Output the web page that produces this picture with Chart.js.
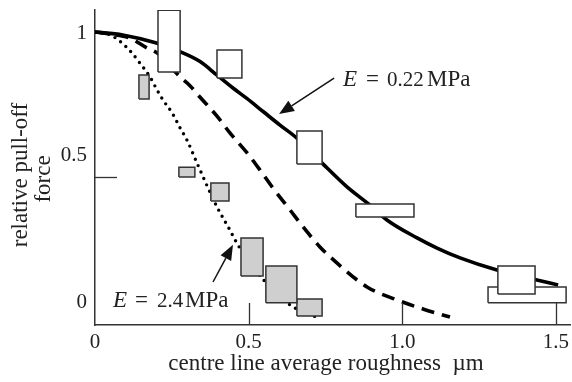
<!DOCTYPE html>
<html><head><meta charset="utf-8">
<script src="https://cdn.jsdelivr.net/npm/chart.js@4.4.1/dist/chart.umd.min.js"></script>
<style>html,body{margin:0;padding:0;background:#fff}canvas{display:block}</style>
</head><body>
<canvas id="c" width="572" height="382"></canvas>
<script>
// ---- axis / tick data ----
const xTickValues = [0, 0.5, 1.0, 1.5];
const xTickLabels = ['0', '0.5', '1.0', '1.5'];
const yTickValues = [1, 0.5, 0];
const yTickLabels = ['1', '0.5', '0'];
const xTickMarks = [0.5, 1.0, 1.5];
const yTickMarks = [0.5];
const xTitle = 'centre line average roughness  \u00b5m';
const yTitle = ['relative pull-off', 'force'];

// ---- curve E = 0.22 MPa (solid) ----
const softCurveX = [0, 0.09, 0.2, 0.277, 0.342, 0.396, 0.45, 0.494, 0.548, 0.602, 0.657, 0.739, 0.82, 0.895, 0.95, 1.048, 1.113, 1.188, 1.308, 1.438, 1.507];
const softCurveY = [1.0, 0.99, 0.962, 0.932, 0.898, 0.852, 0.806, 0.771, 0.725, 0.679, 0.634, 0.548, 0.466, 0.403, 0.352, 0.29, 0.255, 0.221, 0.179, 0.145, 0.128];
// ---- intermediate curve (dashed) ----
const midCurveX = [0, 0.049, 0.114, 0.169, 0.202, 0.277, 0.309, 0.342, 0.397, 0.439, 0.495, 0.537, 0.579, 0.635, 0.677, 0.732, 0.788, 0.885, 0.983, 1.067, 1.155];
const midCurveY = [1, 0.993, 0.979, 0.945, 0.928, 0.845, 0.815, 0.775, 0.71, 0.652, 0.583, 0.524, 0.462, 0.386, 0.328, 0.259, 0.203, 0.121, 0.076, 0.045, 0.017];
// ---- curve E = 2.4 MPa (dotted) ----
const stiffCurveX = [0, 0.049, 0.088, 0.12, 0.146, 0.179, 0.202, 0.221, 0.251, 0.277, 0.299, 0.332, 0.368, 0.397, 0.439, 0.465, 0.543, 0.635, 0.726];
const stiffCurveY = [1, 0.99, 0.962, 0.928, 0.893, 0.845, 0.8, 0.766, 0.721, 0.669, 0.628, 0.548, 0.462, 0.397, 0.317, 0.266, 0.152, 0.059, 0.014];

// ---- measured ranges, E = 0.22 MPa (white boxes) ----
const softXMin = [0.205, 0.397, 0.657, 0.849, 1.311, 1.279];
const softXMax = [0.277, 0.478, 0.739, 1.038, 1.432, 1.533];
const softYMin = [0.862, 0.841, 0.545, 0.362, 0.097, 0.066];
const softYMax = [1.075, 0.938, 0.659, 0.407, 0.193, 0.121];
// ---- measured ranges, E = 2.4 MPa (grey boxes) ----
const stiffXMin = [0.143, 0.273, 0.377, 0.475, 0.556, 0.657];
const stiffXMax = [0.176, 0.325, 0.436, 0.547, 0.657, 0.739];
const stiffYMin = [0.769, 0.5, 0.417, 0.159, 0.066, 0.021];
const stiffYMax = [0.852, 0.534, 0.479, 0.29, 0.193, 0.079];

// ---- annotations (data coordinates) ----
const softLabel = {x: 0.807, y: 0.814, value: '0.22'};
const stiffLabel = {x: 0.0586, y: 0.052, value: '2.4'};
const softArrow = {x0: 0.778, y0: 0.841, x1: 0.599, y1: 0.717};
const stiffArrow = {x0: 0.384, y0: 0.138, x1: 0.449, y1: 0.266};

const FONT = '"Liberation Serif", "Times New Roman", serif';
const NUM = '21px ' + FONT;
const WORD = '23px ' + FONT;
const INK = '#222';

function curve(xs, ys, extra) {
  return Object.assign({
    data: xs.map((v, i) => ({x: v, y: ys[i]})),
    showLine: true, pointRadius: 0, borderColor: '#000', borderWidth: 3.6,
    cubicInterpolationMode: 'monotone', fill: false, order: 1
  }, extra);
}
function boxes(x0, x1, y0, y1, fillColor) {
  return x0.map((_, i) => ({
    data: [
      {x: x0[i], y: y0[i]}, {x: x1[i], y: y0[i]}, {x: x1[i], y: y1[i]},
      {x: x0[i], y: y1[i]}, {x: x0[i], y: y0[i]}
    ],
    showLine: true, pointRadius: 0, tension: 0, borderColor: '#333', borderWidth: 1.5,
    borderJoinStyle: 'miter', backgroundColor: fillColor, fill: 'shape', order: 0
  }));
}

const datasets = [
  ...boxes(stiffXMin, stiffXMax, stiffYMin, stiffYMax, '#cfcfcf'),
  ...boxes(softXMin, softXMax, softYMin, softYMax, '#ffffff'),
  curve(softCurveX, softCurveY, {}),
  curve(midCurveX, midCurveY, {borderDash: [13, 8]}),
  curve(stiffCurveX, stiffCurveY, {borderDash: [0, 7], borderCapStyle: 'round', borderWidth: 3.4})
];

function arrow(ctx, xs, ys, a) {
  const x0 = xs.getPixelForValue(a.x0), y0 = ys.getPixelForValue(a.y0);
  const x1 = xs.getPixelForValue(a.x1), y1 = ys.getPixelForValue(a.y1);
  const ang = Math.atan2(y1 - y0, x1 - x0);
  const L = 15, W = 6;
  const bx = x1 - L * Math.cos(ang), by = y1 - L * Math.sin(ang);
  ctx.beginPath(); ctx.moveTo(x0, y0); ctx.lineTo(bx, by); ctx.stroke();
  ctx.beginPath();
  ctx.moveTo(x1, y1);
  ctx.lineTo(bx + W * Math.sin(ang), by - W * Math.cos(ang));
  ctx.lineTo(bx - W * Math.sin(ang), by + W * Math.cos(ang));
  ctx.closePath(); ctx.fill();
}
function eLabel(ctx, xs, ys, lab, gaps) {
  const px = xs.getPixelForValue(lab.x), py = ys.getPixelForValue(lab.y);
  ctx.textAlign = 'left'; ctx.textBaseline = 'alphabetic';
  ctx.font = 'italic ' + WORD; ctx.fillText('E', px, py);
  ctx.font = WORD; ctx.fillText('=', px + gaps[0], py);
  ctx.font = NUM; ctx.fillText(lab.value, px + gaps[1], py);
  ctx.font = WORD; ctx.fillText('MPa', px + gaps[2], py);
}

const decor = {
  id: 'decor',
  afterDraw(chart) {
    const {ctx} = chart; const xs = chart.scales.x, ys = chart.scales.y;
    ctx.save();
    // inward tick marks
    ctx.strokeStyle = '#333'; ctx.lineWidth = 1.3;
    xTickMarks.forEach(v => {
      const p = Math.round(xs.getPixelForValue(v)) + 0.5;
      ctx.beginPath(); ctx.moveTo(p, ys.bottom); ctx.lineTo(p, ys.bottom - 22); ctx.stroke();
    });
    yTickMarks.forEach(v => {
      const p = Math.round(ys.getPixelForValue(v)) + 0.5;
      ctx.beginPath(); ctx.moveTo(xs.left, p); ctx.lineTo(xs.left + 22, p); ctx.stroke();
    });
    ctx.fillStyle = INK; ctx.font = NUM;
    // x tick labels
    ctx.textAlign = 'center'; ctx.textBaseline = 'alphabetic';
    xTickValues.forEach((v, i) => ctx.fillText(xTickLabels[i], xs.getPixelForValue(v), ys.bottom + 23));
    // y tick labels (offset as in the original figure)
    const yOff = [7, -16, -14];
    ctx.textAlign = 'right';
    yTickValues.forEach((v, i) => ctx.fillText(yTickLabels[i], xs.left - 8, ys.getPixelForValue(v) + yOff[i]));
    // axis titles
    ctx.font = WORD; ctx.textAlign = 'center';
    ctx.fillText(xTitle, 326, 370);
    ctx.save(); ctx.translate(27, 175); ctx.rotate(-Math.PI / 2);
    ctx.fillText(yTitle[0], 0, 0); ctx.fillText(yTitle[1], -4, 23);
    ctx.restore();
    // annotations
    ctx.strokeStyle = '#111'; ctx.fillStyle = '#111'; ctx.lineWidth = 1.5;
    arrow(ctx, xs, ys, softArrow);
    arrow(ctx, xs, ys, stiffArrow);
    ctx.fillStyle = INK;
    eLabel(ctx, xs, ys, softLabel, [23, 44, 84]);
    eLabel(ctx, xs, ys, stiffLabel, [22, 44, 72]);
    ctx.restore();
  }
};

new Chart(document.getElementById('c'), {
  type: 'scatter',
  data: {datasets},
  options: {
    responsive: false, animation: false, events: [],
    layout: {padding: {top: 10, right: 2, left: 0, bottom: 0}},
    plugins: {legend: {display: false}, tooltip: {enabled: false}},
    scales: {
      x: {
        type: 'linear', min: 0, max: 1.5457,
        grid: {display: false, drawTicks: false},
        ticks: {display: false},
        border: {display: true, color: '#333', width: 1.5},
        afterFit: s => { s.height = 57; }
      },
      y: {
        type: 'linear', min: -0.0103, max: 1.0759,
        grid: {display: false, drawTicks: false},
        ticks: {display: false},
        border: {display: true, color: '#333', width: 1.5},
        afterFit: s => { s.width = 95; }
      }
    }
  },
  plugins: [decor]
});
</script>
</body></html>
